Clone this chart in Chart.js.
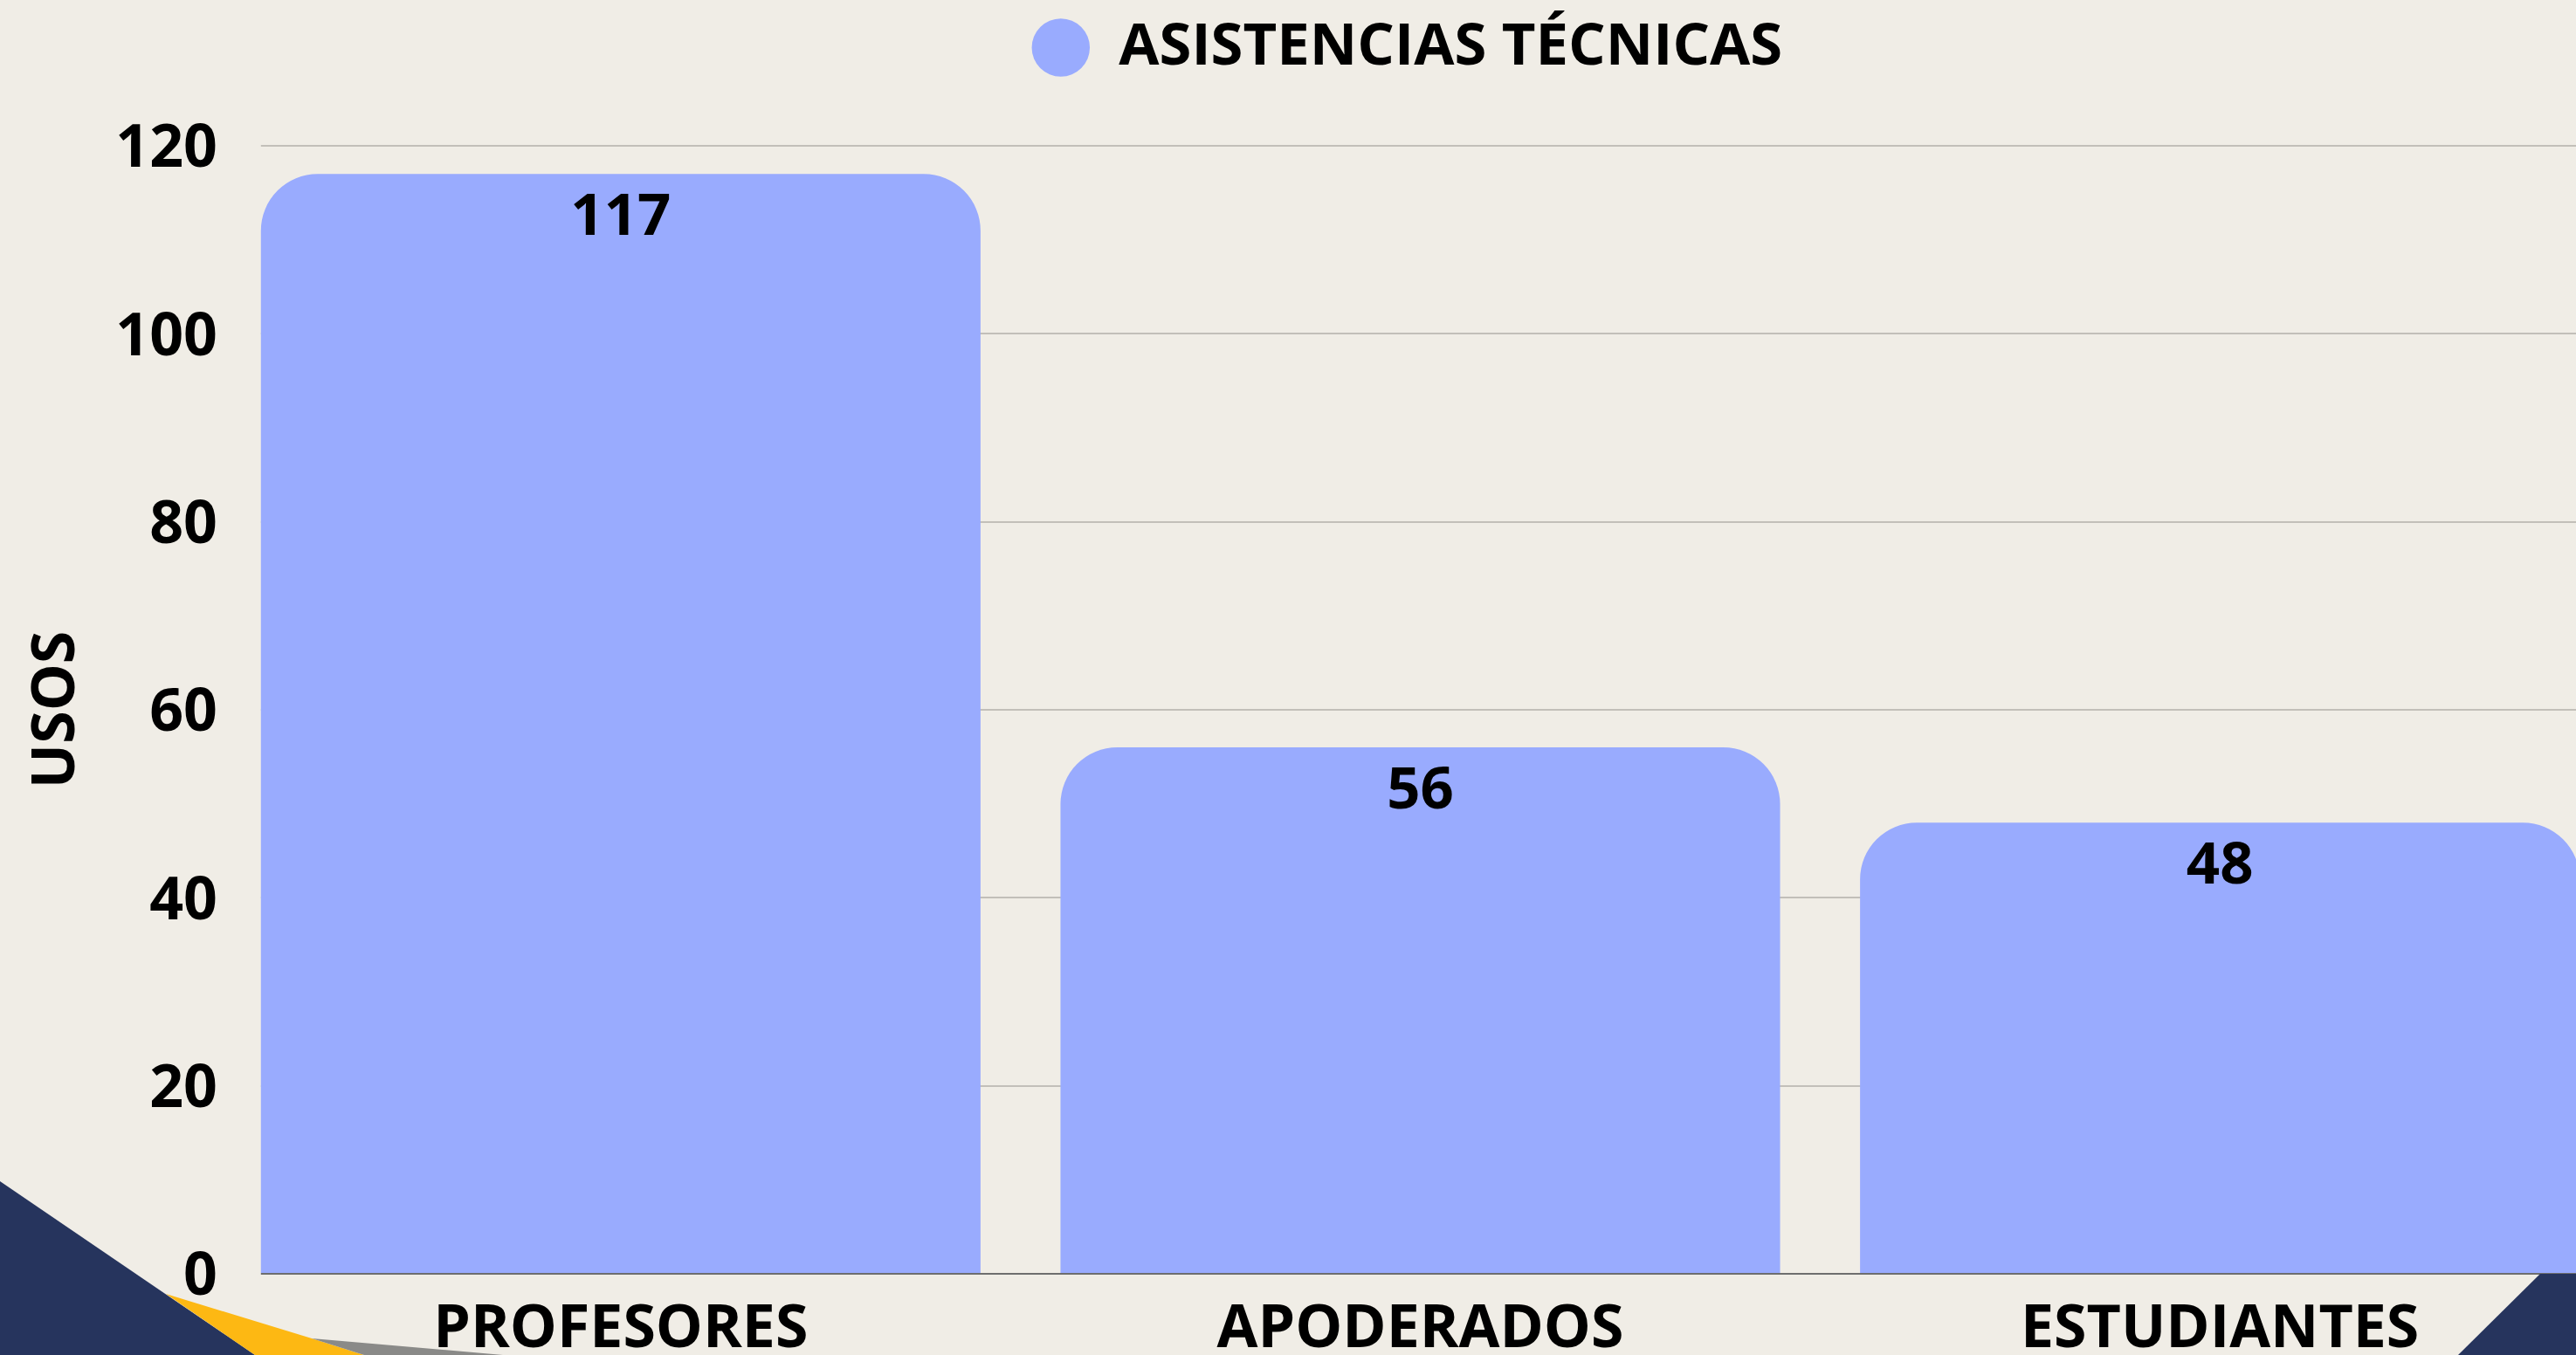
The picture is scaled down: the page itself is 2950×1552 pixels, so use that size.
<!DOCTYPE html>
<html lang="es">
<head>
<meta charset="utf-8">
<title>Asistencias técnicas</title>
<script src="https://cdn.jsdelivr.net/npm/chart.js@4.4.1/dist/chart.umd.min.js"></script>
<style>
  html, body {
    margin: 0;
    padding: 0;
    width: 2950px;
    height: 1552px;
    overflow: hidden;
    background: #f0ede6;
  }
  #wrap {
    position: relative;
    width: 2950px;
    height: 1552px;
    overflow: hidden;
  }
  #usosChart {
    position: absolute;
    left: 0;
    top: 0;
  }
  #decor {
    position: absolute;
    left: 0;
    top: 0;
    pointer-events: none;
  }
</style>
</head>
<body>
<div id="wrap">
  <canvas id="usosChart" width="3000" height="1552"></canvas>
  <svg id="decor" width="2950" height="1552" viewBox="0 0 2950 1552">
    <polygon points="0,1353 292,1552 0,1552" fill="#26345d" />
    <polygon points="190,1482 357,1533 417,1552 292,1552" fill="#fdb813" />
    <polygon points="357,1533 576,1552 417,1552" fill="#8a8a88" />
    <polygon points="2909,1459 2950,1459 2950,1552 2815,1552" fill="#26345d" />
  </svg>
</div>
<script>
"use strict";

const categories = ["PROFESORES", "APODERADOS", "ESTUDIANTES"];
const usosValues = [117, 56, 48];
const seriesLabel = "ASISTENCIAS TÉCNICAS";
const yTicks = [0, 20, 40, 60, 80, 100, 120];

Chart.defaults.font.family = "'Open Sans', 'Noto Sans', sans-serif";
Chart.defaults.font.weight = "bold";
Chart.defaults.font.size = 68;
Chart.defaults.color = "#000000";

// make the legend taller so the plot starts lower, and nudge it a bit left
const legendGap = {
  id: "legendGap",
  beforeInit(chart) {
    const legend = chart.legend;
    const originalFit = legend.fit;
    const originalDraw = legend.draw;
    legend.fit = function fit() {
      originalFit.bind(legend)();
      this.height += 69;
    };
    legend.draw = function draw() {
      legend.ctx.save();
      legend.ctx.translate(-15, 0);
      originalDraw.bind(legend)();
      legend.ctx.restore();
    };
  },
};

// grid lines in the reference start at the first bar, not at the axis
const gridTrim = {
  id: "gridTrim",
  beforeDatasetsDraw(chart) {
    const bar = chart.getDatasetMeta(0).data[0];
    if (!bar) return;
    const { ctx, chartArea } = chart;
    const barLeft = bar.x - bar.width / 2;
    ctx.save();
    ctx.fillStyle = "#f0ede6";
    ctx.fillRect(chartArea.left - 2, chartArea.top - 4, barLeft - chartArea.left + 2, chartArea.bottom - chartArea.top + 8);
    ctx.restore();
  },
};

// value labels inside the top of each bar
const barValues = {
  id: "barValues",
  afterDatasetsDraw(chart) {
    const { ctx } = chart;
    const meta = chart.getDatasetMeta(0);
    ctx.save();
    ctx.font = "bold 67px 'Open Sans', sans-serif";
    ctx.fillStyle = "#000000";
    ctx.textAlign = "center";
    ctx.textBaseline = "middle";
    meta.data.forEach((bar, i) => {
      ctx.fillText(String(usosValues[i]), bar.x, bar.y + 51);
    });
    ctx.restore();
  },
};

const chart = new Chart(document.getElementById("usosChart"), {
  type: "bar",
  data: {
    labels: categories,
    datasets: [
      {
        label: seriesLabel,
        data: usosValues,
        backgroundColor: "#99abfe",
        borderWidth: 0,
        borderRadius: { topLeft: 65, topRight: 65, bottomLeft: 0, bottomRight: 0 },
        borderSkipped: "bottom",
        barPercentage: 0.9,
        categoryPercentage: 1,
      },
    ],
  },
  options: {
    responsive: false,
    animation: false,
    devicePixelRatio: 1,
    layout: { padding: 0 },
    plugins: {
      legend: {
        display: true,
        position: "top",
        fullSize: false,
        labels: {
          usePointStyle: true,
          pointStyle: "circle",
          boxWidth: 66,
          boxHeight: 47,
          padding: 21,
          color: "#000000",
          font: { size: 67, weight: "bold" },
        },
      },
      tooltip: { enabled: false },
    },
    scales: {
      x: {
        grid: { display: false, drawTicks: false },
        border: { display: false },
        ticks: { padding: 24, font: { size: 68, weight: "bold" } },
        afterFit(scale) {
          scale.height = 93;
        },
      },
      y: {
        min: 0,
        max: 120,
        afterBuildTicks(scale) {
          scale.ticks = yTicks.map((v) => ({ value: v }));
        },
        grid: {
          drawTicks: false,
          lineWidth: 2,
          color: (ctx) => (ctx.tick && ctx.tick.value === 0 ? "#6e6e6e" : "#c2bfb9"),
        },
        border: { display: false },
        ticks: {
          padding: 4,
          // empty first line with a small line height pushes the number down a few px
          callback: (value) => ["", String(value)],
          font: { size: 68, weight: "bold", lineHeight: 0.15 },
        },
        title: {
          display: true,
          text: "USOS",
          padding: { top: 25, bottom: 0 },
          font: { size: 68, weight: "bold" },
        },
        afterFit(scale) {
          scale.width = 253;
        },
      },
    },
  },
  plugins: [legendGap, gridTrim, barValues],
});
</script>
</body>
</html>
